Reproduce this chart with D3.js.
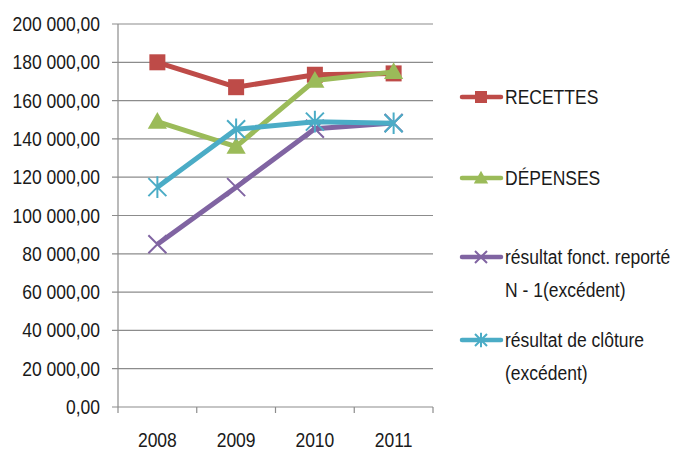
<!DOCTYPE html>
<html><head><meta charset="utf-8">
<script src="https://cdn.jsdelivr.net/npm/d3@7"></script>
<style>
body{margin:0;background:#fff;}
text{font-family:"Liberation Sans",Arial,sans-serif;fill:#1a1a1a;}
</style></head><body>
<svg id="c" width="681" height="451"></svg>
<script>
const years = ["2008","2009","2010","2011"];
const recettes = [180000, 167000, 173500, 174200];
const depenses = [149000, 136000, 170500, 175000];
const resultatReporte = [85000, 114800, 145300, 148300];
const resultatCloture = [114800, 145000, 149000, 148200];
const yTicks = [0,20000,40000,60000,80000,100000,120000,140000,160000,180000,200000];
const seriesNames = ["RECETTES","DÉPENSES",["résultat fonct. reporté","N - 1(excédent)"],["résultat de clôture","(excédent)"]];

const series = [
  {name:seriesNames[0], values:recettes, color:"#BE4B48", marker:"square"},
  {name:seriesNames[1], values:depenses, color:"#9BBB59", marker:"triangle"},
  {name:seriesNames[2], values:resultatReporte, color:"#8064A2", marker:"x"},
  {name:seriesNames[3], values:resultatCloture, color:"#4BACC6", marker:"star"}
];

const svg = d3.select("#c");
const L=118, R=433, T=24, B=407;
const SX = 0.875;
const FS = 20;
const x = d3.scaleBand().domain(years).range([L,R]);
const y = d3.scaleLinear().domain([0,200000]).range([B,T]);
const fmt = v => d3.format(",.2f")(v).replace(/,/g," ").replace(".",",");

function label(parent, tx, ty, txt, anchor){
  return parent.append("text")
    .attr("transform",`translate(${tx},${ty}) scale(${SX},1)`)
    .attr("dy","0.35em").attr("text-anchor",anchor||"start")
    .attr("font-size",FS).text(txt);
}

svg.append("g").selectAll("line").data(yTicks).join("line")
  .attr("x1",L-6).attr("x2",R).attr("y1",d=>y(d)).attr("y2",d=>y(d))
  .attr("stroke","#8c8c8c").attr("stroke-width",1.2);
svg.append("line").attr("x1",L).attr("x2",L).attr("y1",T).attr("y2",B+6).attr("stroke","#8c8c8c").attr("stroke-width",1.2);
const xt = years.map(d=>x(d)+x.bandwidth());
svg.append("g").selectAll("line").data(xt).join("line")
  .attr("x1",d=>d).attr("x2",d=>d).attr("y1",B).attr("y2",B+6).attr("stroke","#8c8c8c").attr("stroke-width",1.2);

const gy = svg.append("g");
yTicks.forEach(t=>label(gy, 100, y(t), fmt(t), "end"));
const gx = svg.append("g");
years.forEach(d=>label(gx, x(d)+x.bandwidth()/2, 440, d, "middle"));

function drawMarker(g, type, color, s){
  if(type==="square"){
    g.append("rect").attr("x",-s/2).attr("y",-s/2).attr("width",s).attr("height",s).attr("fill",color);
  } else if(type==="triangle"){
    g.append("path").attr("d",`M0,${-s*0.6}L${s*0.6},${s*0.45}L${-s*0.6},${s*0.45}Z`).attr("fill",color);
  } else if(type==="x"){
    const h=s/2;
    g.append("path").attr("d",`M${-h},${-h}L${h},${h}M${-h},${h}L${h},${-h}`).attr("stroke",color).attr("stroke-width",2);
  } else {
    const h=s/2;
    g.append("path").attr("d",`M${-h},${-h}L${h},${h}M${-h},${h}L${h},${-h}M0,${-h*1.2}L0,${h*1.2}`).attr("stroke",color).attr("stroke-width",2);
  }
}

const line = d3.line().x((d,i)=>x(years[i])+x.bandwidth()/2).y(d=>y(d));
series.forEach(s=>{
  svg.append("path").datum(s.values).attr("d",line).attr("fill","none")
    .attr("stroke",s.color).attr("stroke-width",5).attr("stroke-linejoin","round");
  s.values.forEach((v,i)=>{
    const g = svg.append("g").attr("transform",`translate(${x(years[i])+x.bandwidth()/2},${y(v)})`);
    drawMarker(g,s.marker,s.color,s.marker==="square"?16:(s.marker==="triangle"?16:18));
  });
});

const legY = [97, 178, 257, 340];
series.forEach((s,i)=>{
  const g = svg.append("g").attr("transform",`translate(0,${legY[i]})`);
  g.append("line").attr("x1",462).attr("x2",501).attr("y1",0).attr("y2",0).attr("stroke",s.color).attr("stroke-width",4.5).attr("stroke-linecap","round");
  const m = g.append("g").attr("transform","translate(481,0)");
  drawMarker(m,s.marker,s.color,12);
  const names = Array.isArray(s.name)?s.name:[s.name];
  names.forEach((n,j)=>label(g, 505, j*33, n, "start"));
});
</script>
</body></html>
